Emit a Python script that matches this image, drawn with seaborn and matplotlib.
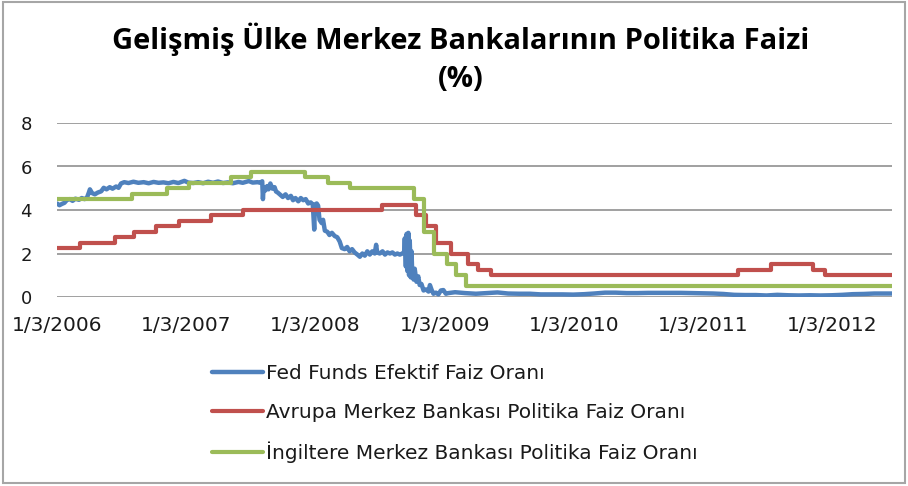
import pandas as pd
import seaborn as sns
import matplotlib.pyplot as plt
from matplotlib.patches import Rectangle

# data
fed_dates = [
    "2006-01-03", "2006-01-10", "2006-01-17", "2006-01-24", "2006-01-31", "2006-02-08",
    "2006-02-16", "2006-02-24", "2006-03-06", "2006-03-14", "2006-03-22", "2006-03-29",
    "2006-04-03", "2006-04-06", "2006-04-12", "2006-04-20", "2006-04-28", "2006-05-08",
    "2006-05-15", "2006-05-23", "2006-06-01", "2006-06-09", "2006-06-19", "2006-06-26",
    "2006-07-03", "2006-07-12", "2006-07-24", "2006-08-07", "2006-08-21", "2006-09-05",
    "2006-09-19", "2006-10-03", "2006-10-17", "2006-10-31", "2006-11-14", "2006-11-28",
    "2006-12-12", "2006-12-29", "2007-01-09", "2007-01-23", "2007-02-06", "2007-02-20",
    "2007-03-06", "2007-03-20", "2007-04-03", "2007-04-17", "2007-05-01", "2007-05-15",
    "2007-05-31", "2007-06-12", "2007-06-29", "2007-07-10", "2007-07-24", "2007-08-01",
    "2007-08-06", "2007-08-08", "2007-08-10", "2007-08-15", "2007-08-20", "2007-08-24",
    "2007-08-29", "2007-09-04", "2007-09-10", "2007-09-14", "2007-09-19", "2007-09-26",
    "2007-10-03", "2007-10-11", "2007-10-18", "2007-10-26", "2007-11-01", "2007-11-08",
    "2007-11-16", "2007-11-23", "2007-11-30", "2007-12-07", "2007-12-14", "2007-12-21",
    "2007-12-27", "2007-12-31", "2008-01-02", "2008-01-07", "2008-01-11", "2008-01-15",
    "2008-01-21", "2008-01-25", "2008-01-30", "2008-02-06", "2008-02-12", "2008-02-19",
    "2008-02-27", "2008-03-05", "2008-03-12", "2008-03-18", "2008-03-26", "2008-04-02",
    "2008-04-09", "2008-04-16", "2008-04-23", "2008-05-01", "2008-05-08", "2008-05-15",
    "2008-05-22", "2008-05-29", "2008-06-05", "2008-06-12", "2008-06-19", "2008-06-23",
    "2008-06-26", "2008-07-03", "2008-07-11", "2008-07-18", "2008-07-25", "2008-08-01",
    "2008-08-08", "2008-08-15", "2008-08-22", "2008-08-29", "2008-09-05", "2008-09-10",
    "2008-09-12", "2008-09-15", "2008-09-17", "2008-09-19", "2008-09-22", "2008-09-24",
    "2008-09-26", "2008-09-29", "2008-10-01", "2008-10-03", "2008-10-07", "2008-10-10",
    "2008-10-15", "2008-10-20", "2008-10-24", "2008-10-29", "2008-11-04", "2008-11-11",
    "2008-11-18", "2008-11-22", "2008-11-27", "2008-12-02", "2008-12-09", "2008-12-16",
    "2008-12-23", "2008-12-30", "2009-01-06", "2009-01-13", "2009-02-01", "2009-03-01",
    "2009-04-01", "2009-05-01", "2009-06-01", "2009-07-01", "2009-08-01", "2009-09-01",
    "2009-10-01", "2009-11-01", "2009-12-01", "2010-01-01", "2010-02-01", "2010-03-01",
    "2010-04-01", "2010-05-01", "2010-06-01", "2010-07-01", "2010-08-01", "2010-09-01",
    "2010-10-01", "2010-11-01", "2010-12-01", "2011-01-01", "2011-02-01", "2011-03-01",
    "2011-04-01", "2011-05-01", "2011-06-01", "2011-07-01", "2011-08-01", "2011-09-01",
    "2011-10-01", "2011-11-01", "2011-12-01", "2012-01-01", "2012-02-01", "2012-03-01",
    "2012-04-01", "2012-05-01", "2012-06-20",
]
fed_values = [
    4.30, 4.22, 4.28, 4.33, 4.46, 4.50,
    4.42, 4.52, 4.47, 4.55, 4.50, 4.58,
    4.80, 4.95, 4.78, 4.72, 4.80, 4.86,
    5.02, 4.95, 5.05, 4.98, 5.08, 5.02,
    5.22, 5.28, 5.24, 5.30, 5.25, 5.28,
    5.23, 5.29, 5.25, 5.27, 5.23, 5.29,
    5.24, 5.34, 5.26, 5.24, 5.28, 5.23,
    5.30, 5.25, 5.31, 5.24, 5.27, 5.23,
    5.29, 5.25, 5.33, 5.26, 5.28, 5.25,
    5.32, 4.50, 5.05, 4.90, 5.10, 4.95,
    5.22, 4.98, 5.05, 4.85, 4.80, 4.70,
    4.60, 4.72, 4.55, 4.65, 4.45, 4.55,
    4.40, 4.55, 4.45, 4.50, 4.30, 4.35,
    4.25, 3.10, 4.25, 4.30, 4.20, 3.55,
    3.40, 3.55, 3.05, 3.00, 2.85, 2.95,
    2.80, 2.75, 2.55, 2.25, 2.20, 2.30,
    2.10, 2.20, 2.05, 1.95, 1.85, 2.00,
    1.90, 2.10, 1.95, 2.10, 2.00, 2.40,
    2.05, 2.00, 2.10, 1.95, 2.05, 2.00,
    2.05, 1.95, 2.00, 1.95, 2.00, 2.05,
    2.70, 1.40, 2.90, 1.20, 2.95, 1.00,
    2.60, 0.90, 2.10, 1.10, 0.80, 1.30,
    0.70, 0.95, 0.55, 0.60, 0.30, 0.35,
    0.25, 0.55, 0.32, 0.15, 0.20, 0.12,
    0.30, 0.32, 0.15, 0.18, 0.22, 0.18,
    0.15, 0.18, 0.21, 0.16, 0.15, 0.15,
    0.12, 0.12, 0.12, 0.11, 0.13, 0.16,
    0.20, 0.20, 0.18, 0.18, 0.19, 0.19,
    0.19, 0.19, 0.18, 0.17, 0.16, 0.14,
    0.10, 0.09, 0.09, 0.07, 0.10, 0.08,
    0.07, 0.08, 0.07, 0.08, 0.10, 0.13,
    0.14, 0.16, 0.16,
]

ecb_dates = [
    "2006-01-03", "2006-03-08", "2006-06-15", "2006-08-09", "2006-10-11", "2006-12-13",
    "2007-03-14", "2007-06-13", "2008-07-09", "2008-10-15", "2008-11-12", "2008-12-10",
    "2009-01-21", "2009-03-11", "2009-04-08", "2009-05-13", "2011-04-13", "2011-07-13",
    "2011-11-09", "2011-12-14", "2012-06-20",
]
ecb_values = [
    2.25, 2.50, 2.75, 3.00, 3.25, 3.50,
    3.75, 4.00, 4.25, 3.75, 3.25, 2.50,
    2.00, 1.50, 1.25, 1.00, 1.25, 1.50,
    1.25, 1.00, 1.00,
]

boe_dates = [
    "2006-01-03", "2006-08-03", "2006-11-09", "2007-01-11", "2007-05-10", "2007-07-05",
    "2007-12-06", "2008-02-07", "2008-04-10", "2008-10-08", "2008-11-06", "2008-12-04",
    "2009-01-08", "2009-02-05", "2009-03-05", "2012-06-20",
]
boe_values = [
    4.50, 4.75, 5.00, 5.25, 5.50, 5.75,
    5.50, 5.25, 5.00, 4.50, 3.00, 2.00,
    1.50, 1.00, 0.50, 0.50,
]

labels = [
    "Fed Funds Efektif Faiz Oranı",
    "Avrupa Merkez Bankası Politika Faiz Oranı",
    "İngiltere Merkez Bankası Politika Faiz Oranı",
]
colors = ["#4F81BD", "#C0504D", "#9BBB59"]
year_ticks = ["2006-01-03", "2007-01-03", "2008-01-03", "2009-01-03",
              "2010-01-03", "2011-01-03", "2012-01-03"]
tick_labels = ["1/3/2006", "1/3/2007", "1/3/2008", "1/3/2009",
               "1/3/2010", "1/3/2011", "1/3/2012"]

fed = pd.DataFrame({"date": pd.to_datetime(fed_dates), "rate": fed_values})
ecb = pd.DataFrame({"date": pd.to_datetime(ecb_dates), "rate": ecb_values})
boe = pd.DataFrame({"date": pd.to_datetime(boe_dates), "rate": boe_values})

sns.set_style("white")
plt.rcParams['font.family'] = ['DejaVu Sans']

fig = plt.figure(figsize=(9.08, 4.86), dpi=100)
ax = fig.add_axes([57 / 908, 1 - 297 / 486, (892 - 57) / 908, (297 - 123) / 486])

sns.lineplot(data=fed, x="date", y="rate", color=colors[0], lw=3.2, label=labels[0], ax=ax)
sns.lineplot(data=ecb, x="date", y="rate", color=colors[1], lw=3, label=labels[1],
             drawstyle="steps-post", ax=ax)
sns.lineplot(data=boe, x="date", y="rate", color=colors[2], lw=3, label=labels[2],
             drawstyle="steps-post", ax=ax)

ax.set_ylim(0, 8)
ax.set_yticks([0, 2, 4, 6, 8])
ax.set_xlim(pd.Timestamp("2006-01-03"), pd.Timestamp("2012-06-20"))
ax.set_xticks(pd.to_datetime(year_ticks))
ax.set_xticklabels(tick_labels)
ax.set_xlabel("")
ax.set_ylabel("")
ax.grid(axis="y", color="#868686", lw=1.1)
ax.set_axisbelow(True)
for s in ax.spines.values():
    s.set_visible(False)
ax.tick_params(axis="x", length=0, pad=14, labelsize=14.5, labelcolor="#1a1a1a")
ax.tick_params(axis="y", length=0, pad=18, labelsize=13, labelcolor="#1a1a1a")

ax.legend_.remove()
handles, _ = ax.get_legend_handles_labels()
fig.legend(handles, labels, loc="upper left", bbox_to_anchor=(212 / 908, 1 - 364 / 486),
           frameon=False, prop={"family": "DejaVu Sans", "size": 14.5},
           handlelength=2.55, handletextpad=0.12, labelspacing=0.98,
           borderpad=0, borderaxespad=0, labelcolor="#1a1a1a")

fig.text(461 / 908, 1 - 49 / 486, "Gelişmiş Ülke Merkez Bankalarının Politika Faizi",
         ha="center", va="baseline", fontsize=21, fontweight="bold", family="Open Sans",
         color="black")
fig.text(461 / 908, 1 - 87 / 486, "(%)", ha="center", va="baseline",
         fontsize=21, fontweight="bold", family="Open Sans", color="black")

fig.patches.append(Rectangle((3 / 908, 3 / 486), 902 / 908, 481 / 486, transform=fig.transFigure,
                             fill=False, edgecolor="#A6A6A6", lw=1.5))

fig.savefig("out.png", dpi=100)
